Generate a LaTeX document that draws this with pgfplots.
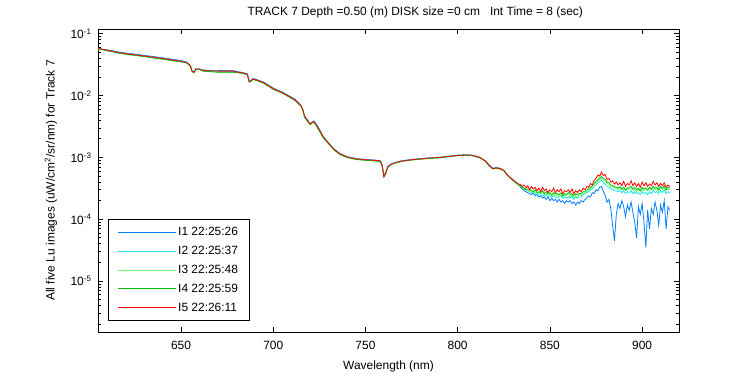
\documentclass[border=0pt]{standalone}
\usepackage{fontspec}
\setmainfont{Liberation Sans}
\usepackage{pgfplots}
\pgfplotsset{compat=1.18}
\usepackage{pgfplotstable}
\definecolor{cI1}{RGB}{0,128,255}
\definecolor{cI2}{RGB}{30,225,240}
\definecolor{cI3}{RGB}{110,255,110}
\definecolor{cI4}{RGB}{0,190,0}
\definecolor{cI5}{RGB}{255,0,0}
\pgfplotstableread{
wl I1 I2 I3 I4 I5
605 0.059 0.058 0.057 0.057 0.058
608 0.056 0.056 0.055 0.055 0.056
612 0.054 0.053 0.052 0.052 0.053
616 0.051 0.050 0.049 0.049 0.050
620 0.049 0.048 0.047 0.047 0.048
625 0.047 0.046 0.045 0.045 0.046
630 0.045 0.044 0.043 0.043 0.044
635 0.043 0.042 0.041 0.041 0.042
640 0.041 0.040 0.039 0.039 0.040
645 0.039 0.038 0.037 0.037 0.038
650 0.037 0.036 0.0355 0.0355 0.036
653 0.035 0.0345 0.034 0.034 0.0345
655 0.031 0.031 0.030 0.030 0.031
656 0.025 0.025 0.0245 0.0245 0.025
657 0.024 0.024 0.0235 0.0235 0.024
658 0.027 0.027 0.0265 0.0265 0.027
660 0.027 0.027 0.0265 0.0265 0.027
662 0.026 0.0255 0.025 0.025 0.0255
670 0.0255 0.025 0.024 0.024 0.025
678 0.0255 0.025 0.024 0.024 0.025
681 0.0245 0.024 0.0235 0.0235 0.024
684 0.0235 0.0232 0.0228 0.0228 0.0232
686 0.0225 0.0222 0.0218 0.0218 0.0222
687 0.0170 0.0168 0.0166 0.0166 0.0168
688 0.0177 0.0175 0.0172 0.0172 0.0175
689 0.0190 0.0186 0.0183 0.0183 0.0186
691 0.0183 0.0180 0.0176 0.0176 0.0180
695 0.0165 0.0162 0.0158 0.0158 0.0162
700 0.0133 0.0130 0.0127 0.0127 0.0130
705 0.0114 0.0112 0.0110 0.0110 0.0112
709 0.0098 0.0096 0.0094 0.0094 0.0096
712 0.0087 0.0085 0.0083 0.0083 0.0085
715 0.0070 0.0069 0.0068 0.0068 0.0069
716 0.0061 0.0060 0.0059 0.0059 0.0060
717 0.0047 0.0046 0.0045 0.0045 0.0046
719 0.0039 0.0038 0.0037 0.0037 0.0038
720 0.0035 0.0035 0.0034 0.0034 0.0035
721 0.0037 0.0037 0.0036 0.0036 0.0037
722 0.0039 0.0038 0.0037 0.0037 0.0038
723 0.0036 0.0035 0.0034 0.0034 0.0035
725 0.0029 0.0028 0.0027 0.0027 0.0028
727 0.0022 0.0022 0.0021 0.0021 0.0022
730 0.00172 0.0017 0.00167 0.00167 0.0017
733 0.00137 0.00135 0.00132 0.00132 0.00135
736 0.00117 0.00115 0.00113 0.00113 0.00115
740 0.00103 0.00102 0.00100 0.00100 0.00102
745 0.00096 0.00095 0.00093 0.00093 0.00095
750 0.00093 0.00092 0.00090 0.00090 0.00092
755 0.00091 0.00090 0.00088 0.00088 0.00090
758 0.00089 0.00088 0.00086 0.00086 0.00088
759 0.00077 0.00076 0.00075 0.00075 0.00075
760 0.00052 0.00051 0.00050 0.00050 0.00048
761 0.00057 0.00056 0.00055 0.00055 0.00055
762 0.00071 0.00070 0.00069 0.00069 0.00070
764 0.00079 0.00078 0.00077 0.00077 0.00078
766 0.00083 0.00082 0.00081 0.00081 0.00082
770 0.00089 0.00088 0.00087 0.00087 0.00088
775 0.00093 0.00092 0.00091 0.00091 0.00092
780 0.00096 0.00095 0.00094 0.00094 0.00095
785 0.00099 0.00098 0.00097 0.00097 0.00098
790 0.00101 0.00100 0.00099 0.00099 0.00100
795 0.00105 0.00104 0.00103 0.00103 0.00104
800 0.00109 0.00108 0.00107 0.00107 0.00108
805 0.00111 0.00110 0.00109 0.00109 0.00110
808 0.00109 0.00108 0.00107 0.00107 0.00108
812 0.00101 0.00100 0.00099 0.00099 0.00100
815 0.00089 0.00088 0.00087 0.00087 0.00088
817 0.00076 0.00075 0.00074 0.00074 0.00075
819 0.00067 0.00066 0.00065 0.00065 0.00066
821 0.00069 0.00068 0.00067 0.00067 0.00068
823 0.00067 0.00066 0.00065 0.00065 0.00066
825 0.00062 0.00062 0.00061 0.00061 0.00062
827 0.00052 0.00052 0.00051 0.00051 0.00052
829 0.00046 0.00046 0.00045 0.00045 0.00046
831 0.00041 0.00041 0.00040 0.00040 0.00041
833 0.00037 0.00037 0.00036 0.00036 0.00037
834 3.3e-4 3.5e-4 3.4e-4 3.5e-4 3.7e-4
835 3.1e-4 3.2e-4 3.3e-4 3.3e-4 3.4e-4
836 2.9e-4 3.0e-4 3.1e-4 3.2e-4 3.6e-4
837 2.8e-4 3.0e-4 3.1e-4 3.0e-4 3.2e-4
838 2.7e-4 2.9e-4 2.9e-4 3.1e-4 3.5e-4
839 2.6e-4 2.8e-4 2.8e-4 3.0e-4 3.0e-4
840 2.5e-4 2.7e-4 3.0e-4 2.9e-4 3.4e-4
841 2.7e-4 2.7e-4 2.7e-4 2.8e-4 3.1e-4
842 2.4e-4 2.6e-4 2.8e-4 3.0e-4 3.3e-4
843 2.5e-4 2.5e-4 2.6e-4 2.7e-4 2.9e-4
844 2.3e-4 2.6e-4 2.7e-4 2.8e-4 3.2e-4
845 2.4e-4 2.4e-4 2.6e-4 2.7e-4 2.8e-4
846 2.2e-4 2.5e-4 2.7e-4 2.9e-4 3.3e-4
847 2.3e-4 2.4e-4 2.5e-4 2.6e-4 2.9e-4
848 2.1e-4 2.5e-4 2.6e-4 2.8e-4 3.1e-4
849 2.3e-4 2.3e-4 2.5e-4 2.6e-4 2.7e-4
850 2.0e-4 2.4e-4 2.6e-4 2.7e-4 3.0e-4
851 2.2e-4 2.3e-4 2.4e-4 2.5e-4 2.8e-4
852 2.0e-4 2.4e-4 2.6e-4 2.7e-4 3.2e-4
853 2.1e-4 2.3e-4 2.4e-4 2.6e-4 2.7e-4
854 1.9e-4 2.2e-4 2.5e-4 2.6e-4 3.0e-4
855 2.1e-4 2.3e-4 2.3e-4 2.5e-4 2.8e-4
856 1.9e-4 2.4e-4 2.5e-4 2.7e-4 3.1e-4
857 2.0e-4 2.2e-4 2.3e-4 2.4e-4 2.6e-4
858 1.8e-4 2.3e-4 2.5e-4 2.6e-4 2.9e-4
859 2.0e-4 2.2e-4 2.4e-4 2.5e-4 2.8e-4
860 1.9e-4 2.3e-4 2.4e-4 2.7e-4 3.0e-4
861 2.0e-4 2.2e-4 2.3e-4 2.5e-4 2.7e-4
862 1.8e-4 2.4e-4 2.5e-4 2.6e-4 3.1e-4
863 1.9e-4 2.1e-4 2.2e-4 2.4e-4 2.6e-4
864 1.7e-4 2.3e-4 2.4e-4 2.6e-4 2.9e-4
865 1.9e-4 2.2e-4 2.3e-4 2.5e-4 2.7e-4
866 1.8e-4 2.3e-4 2.5e-4 2.6e-4 3.0e-4
867 2.0e-4 2.3e-4 2.4e-4 2.6e-4 2.8e-4
868 1.9e-4 2.5e-4 2.6e-4 2.8e-4 3.2e-4
869 2.1e-4 2.6e-4 2.7e-4 2.8e-4 3.0e-4
870 2.2e-4 2.7e-4 2.8e-4 3.0e-4 3.4e-4
871 2.4e-4 2.8e-4 3.0e-4 3.1e-4 3.3e-4
872 2.3e-4 3.0e-4 3.1e-4 3.3e-4 3.8e-4
873 2.7e-4 3.1e-4 3.3e-4 3.5e-4 3.6e-4
874 2.6e-4 3.4e-4 3.5e-4 3.8e-4 4.3e-4
875 3.0e-4 3.6e-4 3.9e-4 4.1e-4 4.6e-4
876 2.9e-4 3.9e-4 4.2e-4 4.4e-4 5.2e-4
877 3.3e-4 4.1e-4 4.4e-4 4.6e-4 5.0e-4
878 3.4e-4 4.3e-4 4.6e-4 4.9e-4 5.8e-4
879 2.8e-4 3.9e-4 4.3e-4 4.6e-4 5.1e-4
880 2.4e-4 3.7e-4 4.1e-4 4.4e-4 5.3e-4
881 1.9e-4 3.4e-4 3.8e-4 4.0e-4 4.4e-4
882 2.1e-4 3.3e-4 3.6e-4 3.9e-4 4.6e-4
883 1.5e-4 3.1e-4 3.4e-4 3.6e-4 4.0e-4
884 0.8e-4 3.0e-4 3.3e-4 3.5e-4 4.2e-4
885 0.45e-4 2.9e-4 3.2e-4 3.4e-4 3.7e-4
886 1.2e-4 2.9e-4 3.1e-4 3.3e-4 4.0e-4
887 1.8e-4 2.8e-4 3.0e-4 3.2e-4 3.6e-4
888 1.5e-4 2.9e-4 3.2e-4 3.4e-4 3.9e-4
889 2.0e-4 2.7e-4 3.0e-4 3.1e-4 3.5e-4
890 1.6e-4 2.9e-4 3.1e-4 3.3e-4 4.1e-4
891 1.1e-4 2.6e-4 2.9e-4 3.0e-4 3.4e-4
892 1.7e-4 2.8e-4 3.0e-4 3.2e-4 3.8e-4
893 1.4e-4 2.7e-4 3.1e-4 3.3e-4 3.6e-4
894 1.9e-4 2.9e-4 3.2e-4 3.4e-4 4.2e-4
895 1.3e-4 2.6e-4 2.9e-4 3.1e-4 3.5e-4
896 0.9e-4 2.8e-4 3.1e-4 3.3e-4 3.9e-4
897 0.5e-4 2.6e-4 2.8e-4 3.0e-4 3.4e-4
898 1.6e-4 2.7e-4 3.0e-4 3.2e-4 3.8e-4
899 1.2e-4 2.5e-4 2.8e-4 2.9e-4 3.3e-4
900 1.8e-4 2.8e-4 3.1e-4 3.3e-4 4.0e-4
901 0.9e-4 2.6e-4 2.9e-4 3.1e-4 3.5e-4
902 0.35e-4 2.7e-4 3.0e-4 3.2e-4 3.9e-4
903 1.4e-4 2.5e-4 2.9e-4 3.0e-4 3.4e-4
904 0.7e-4 2.8e-4 3.1e-4 3.3e-4 3.7e-4
905 1.5e-4 2.6e-4 2.9e-4 3.1e-4 3.5e-4
906 1.2e-4 2.9e-4 3.2e-4 3.4e-4 4.1e-4
907 1.9e-4 2.7e-4 3.0e-4 3.2e-4 3.6e-4
908 1.4e-4 2.8e-4 3.1e-4 3.3e-4 3.9e-4
909 0.8e-4 2.6e-4 2.8e-4 3.0e-4 3.4e-4
910 1.7e-4 2.9e-4 3.2e-4 3.4e-4 3.8e-4
911 1.3e-4 2.7e-4 3.0e-4 3.2e-4 3.5e-4
912 2.0e-4 3.0e-4 3.3e-4 3.5e-4 3.9e-4
913 0.7e-4 2.6e-4 2.9e-4 3.0e-4 3.3e-4
914 1.6e-4 2.8e-4 3.1e-4 3.3e-4 3.6e-4
915 1.4e-4 2.7e-4 3.0e-4 3.2e-4 3.4e-4
}\spectra
\begin{document}
\begin{tikzpicture}[x=1bp,y=1bp]
\path[use as bounding box] (0,0) rectangle (750,375);
\begin{axis}[
  at={(98bp,43bp)}, anchor=south west,
  scale only axis, width=581bp, height=303bp,
  ymode=log,
  xmin=605, xmax=920, ymin=1.5e-6, ymax=0.12,
  xtick={650,700,750,800,850,900},
  ytick={1e-5,1e-4,1e-3,1e-2,1e-1},
  yticklabels={10\textsuperscript{-5},10\textsuperscript{-4},10\textsuperscript{-3},10\textsuperscript{-2},10\textsuperscript{-1}},
  minor ytick={2e-6,3e-6,4e-6,5e-6,6e-6,7e-6,8e-6,9e-6,2e-5,3e-5,4e-5,5e-5,6e-5,7e-5,8e-5,9e-5,2e-4,3e-4,4e-4,5e-4,6e-4,7e-4,8e-4,9e-4,2e-3,3e-3,4e-3,5e-3,6e-3,7e-3,8e-3,9e-3,2e-2,3e-2,4e-2,5e-2,6e-2,7e-2,8e-2,9e-2},
  tick align=inside,
  major tick length=5bp, minor tick length=3bp,
  every tick/.style={black, line width=0.8bp},
  axis line style={line width=0.8bp},
  /pgf/number format/assume math mode=true,
  /pgf/number format/1000 sep={},
  tick label style={font=\fontsize{12}{14}\selectfont},
  xticklabel style={yshift=-6bp},
  yticklabel style={xshift=-3bp},
  label style={font=\fontsize{12}{14}\selectfont},
  xlabel={Wavelength (nm)},
  xlabel style={at={(axis description cs:0.5,-0.112)}, anchor=center},
  ylabel={All five Lu images (uW/cm\textsuperscript{2}/sr/nm) for Track 7},
  ylabel style={at={(axis description cs:-0.081,0.5)}, anchor=center},
  every axis title shift=0pt,
  title={TRACK 7 Depth =0.50 (m) DISK size =0 cm \ \ Int Time = 8 (sec)},
  title style={at={(axis description cs:0.546,1.056)}, anchor=center, font=\fontsize{12}{14}\selectfont},
  legend style={at={(axis description cs:0.0172,0.373)}, anchor=north west,
    draw=black, line width=0.8bp, fill=white,
    font=\fontsize{12}{14}\selectfont,
    inner xsep=9bp, inner ysep=6bp, row sep=5bp,
    /tikz/every even column/.append style={column sep=5bp},
    cells={anchor=west}},
  legend image code/.code={\draw[#1, line width=0.8bp] (0bp,0bp) -- (58bp,0bp);},
  legend cell align=left,
  every axis plot/.append style={line width=0.8bp},
]
\addplot[color=cI1, no marks] table[x=wl, y=I1] {\spectra};
\addlegendentry{I1 22:25:26}
\addplot[color=cI2, no marks] table[x=wl, y=I2] {\spectra};
\addlegendentry{I2 22:25:37}
\addplot[color=cI3, no marks] table[x=wl, y=I3] {\spectra};
\addlegendentry{I3 22:25:48}
\addplot[color=cI4, no marks] table[x=wl, y=I4] {\spectra};
\addlegendentry{I4 22:25:59}
\addplot[color=cI5, no marks] table[x=wl, y=I5] {\spectra};
\addlegendentry{I5 22:26:11}
\end{axis}
\end{tikzpicture}
\end{document}
